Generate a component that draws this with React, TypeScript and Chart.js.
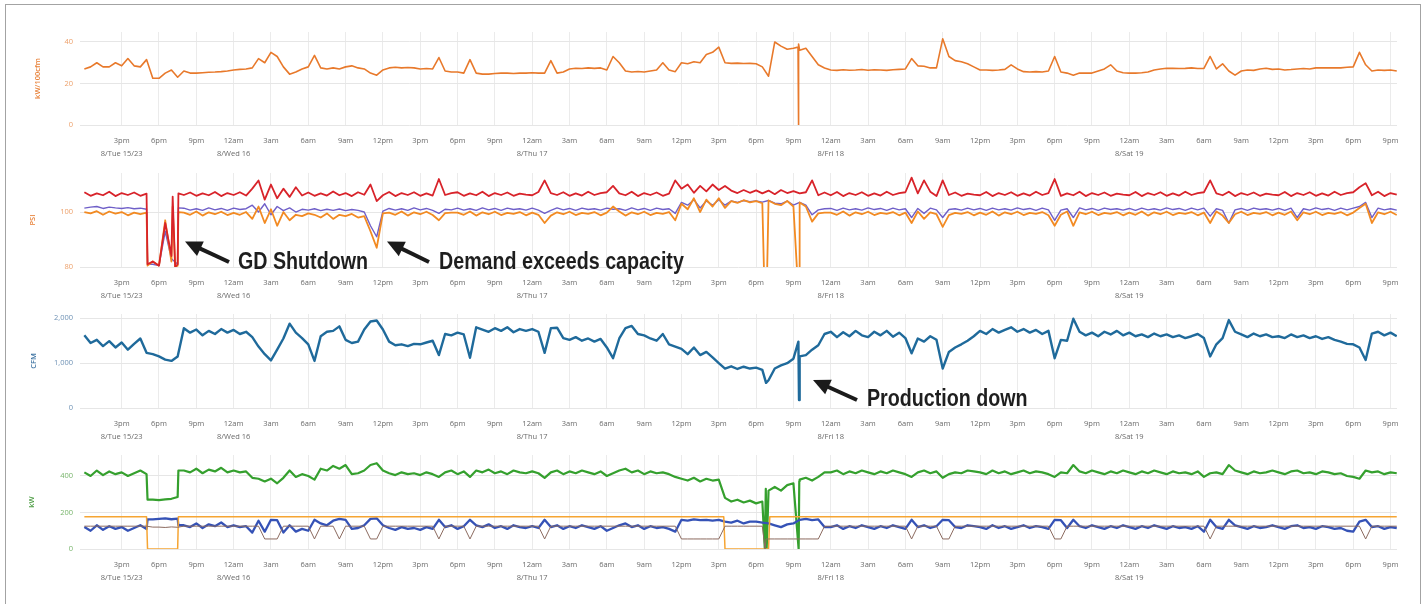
import React, { useEffect, useRef } from 'react';
import { Chart, registerables } from 'chart.js';

Chart.register(...registerables);

// ---------- time axis (hours counted from Tue 15, 00:00) ----------
const START_HOUR = 12;
const STEP_HOURS = 0.5;
const X_MIN = 11.65;
const X_MAX = 117.52;

const tickHours = [15, 18, 21, 24, 27, 30, 33, 36, 39, 42, 45, 48, 51, 54, 57, 60, 63, 66, 69, 72, 75, 78, 81, 84, 87, 90, 93, 96, 99, 102, 105, 108, 111, 114, 117];
const tickTimeLabels = ['3pm', '6pm', '9pm', '12am', '3am', '6am', '9am', '12pm', '3pm', '6pm', '9pm', '12am', '3am', '6am', '9am', '12pm', '3pm', '6pm', '9pm', '12am', '3am', '6am', '9am', '12pm', '3pm', '6pm', '9pm', '12am', '3am', '6am', '9am', '12pm', '3pm', '6pm', '9pm'];
const tickDateLabels = ['8/Tue 15/23', '', '', '8/Wed 16', '', '', '', '', '', '', '', '8/Thu 17', '', '', '', '', '', '', '', '8/Fri 18', '', '', '', '', '', '', '', '8/Sat 19', '', '', '', '', '', '', ''];

// ---------- panel 1: kW/100cfm (30 min samples from 12pm Tue) ----------
const kwPer100Cfm = [
  27, 28, 30, 28, 28, 30, 28.5, 32, 28.5, 28, 31.5, 22.5,
  22.5, 25, 26.5, 23, 26, 25, 25, 25.2, 25.4, 25.5, 25.7, 26,
  26.5, 26.8, 27, 27.5, 32, 30, 35, 33, 28, 24.5, 25.5, 27,
  28, 33.5, 27.5, 27, 27.5, 27, 28, 28.5, 27.5, 27, 25, 24,
  26.5, 27.5, 27.8, 27.5, 27.7, 27.5, 27, 27.2, 27, 32.5, 26, 25.5,
  25.5, 25, 31.5, 25, 24.5, 24.5, 24.8, 25, 25, 24.8, 25, 25,
  25.2, 25, 25, 31, 25, 25.5, 27, 27.3, 27.2, 27.5, 27.3, 27.5,
  26.5, 33, 30, 26, 25.5, 25.8, 25.5, 26, 26.5, 30, 26.5, 25.7,
  30, 29.5, 30.5, 30, 34, 35, 37.5, 30, 29.7, 29.8, 29.6, 29.7,
  29.5, 28, 23.5, 40, 38, 36.5, 37, 36, 37, 33, 29, 27.5,
  26.5, 26.3, 26.6, 26.4, 26.5, 26.7, 26.4, 26.6, 26.5, 26.3, 26.6, 26.8,
  27, 32, 28.5, 28.3, 27.5, 27.5, 41.5, 33, 31, 30.5, 29.5, 28,
  26.5, 26.5, 26.3, 26.5, 26.8, 29, 27, 25.7, 25.5, 25.7, 25.5, 26,
  33, 25.5, 25, 24, 25, 25, 25, 26, 27, 29, 26, 25.2,
  25, 25, 25.2, 25.5, 26.5, 27, 27.3, 27.3, 27.2, 27.3, 27.5, 27.2,
  27.3, 33, 27, 29.5, 26, 24, 26, 26.5, 26.3, 27, 27.3, 26.8,
  27, 26.5, 26.7, 27, 27.2, 27, 27.5, 27.6, 27.5, 27.6, 27.5, 27.8,
  28, 35, 29, 26, 26.5, 26.3, 26.5, 26,
];
const kwPer100CfmSpikes: [number, number][] = [[69.37, 37.5], [69.4, 0], [69.43, 39]];

// ---------- panel 2: PSI ----------
const psiRed = [
  107.2, 105.9, 106.8, 106.1, 107.4, 105.8, 106.9, 106.2, 107.1, 105.9, 106.7, 82,
  80.5, 96, 84, 81, 106.2, 107.1, 105.9, 106.8, 106.1, 107.3, 105.8, 106.9,
  106.2, 107.2, 106.0, 108.5, 111.5, 104.5, 110, 105, 108.5, 105.5, 109, 106,
  107.1, 105.9, 106.8, 106.0, 107.5, 106.1, 106.9, 105.8, 107.2, 106.3, 110, 104,
  106.1, 107.3, 105.8, 106.9, 106.2, 107.2, 105.9, 106.8, 106.0, 112, 106.2, 106.9,
  107.2, 105.9, 106.8, 106.1, 107.4, 105.8, 106.9, 106.2, 107.1, 105.9, 106.7, 106.3,
  106.1, 107.3, 111.5, 106.9, 106.2, 107.2, 105.9, 106.8, 106.0, 107.4, 106.2, 106.9,
  107.2, 109.5, 106.8, 106.1, 107.4, 105.8, 106.9, 106.2, 107.1, 105.9, 106.7, 111.5,
  108.5, 110, 107, 109.5, 107.5, 110, 108, 109.5, 107.8, 106.9, 108, 107,
  107.9, 106.8, 107.8, 106.5, 108, 106.9, 107.6, 106.8, 107.2, 111.5, 106.1, 107.1,
  106.1, 107.3, 105.8, 106.9, 106.2, 107.2, 105.9, 106.8, 106.0, 107.4, 106.2, 106.9,
  107.2, 112.5, 106.8, 111.5, 107.4, 105.8, 111.5, 106.2, 107.1, 105.9, 106.7, 106.3,
  106.1, 107.3, 105.8, 106.9, 106.2, 107.2, 105.9, 106.8, 106.0, 107.4, 106.2, 106.9,
  112, 105.9, 106.8, 106.1, 107.4, 105.8, 106.9, 106.2, 107.1, 105.9, 106.7, 106.3,
  106.1, 107.3, 105.8, 106.9, 106.2, 107.2, 105.9, 106.8, 106.0, 107.4, 106.2, 106.9,
  107.2, 111.5, 106.8, 106.1, 107.4, 105.8, 106.9, 106.2, 107.1, 105.9, 106.7, 106.3,
  106.1, 107.3, 105.8, 106.9, 106.2, 107.2, 105.9, 106.8, 106.0, 107.4, 106.2, 106.9,
  107.2, 109, 110.5, 106.1, 107.4, 105.8, 106.9, 106.3,
];
const psiRedSpikes: [number, number][] = [[17.08, 81], [19.1, 105.6], [19.3, 80], [19.56, 106.8]];

const psiBlue = [
  101.4, 101.8, 102, 101.3, 101.8, 101.5, 101.3, 101.6, 101.2, 101.4, 101, 81,
  80.5, 93, 83, 81, 101.4, 100.7, 101.2, 100.6, 101.5, 100.8, 101.3, 100.6,
  101.4, 100.9, 101.2, 102.5, 100, 103, 99, 102, 100.5, 101.5, 100, 101,
  100.7, 101.2, 100.5, 101, 100.6, 101.1, 100.5, 100.9, 100.6, 100, 95, 91,
  100.3, 101.3, 100.7, 101.2, 100.6, 101.5, 100.8, 101.3, 100.6, 99.5, 101, 100.8,
  101.4, 100.7, 101.2, 100.6, 101.5, 100.8, 101.3, 100.6, 101.4, 100.9, 101.2, 100.7,
  101.4, 100.7, 99.5, 100.6, 101.5, 100.8, 101.3, 100.6, 101.4, 100.9, 101.2, 100.7,
  101.4, 101, 101.2, 100.6, 101.5, 100.8, 101.3, 100.6, 101.4, 100.9, 101.2, 99.5,
  103.5, 102.5, 104.5, 101.5, 104, 102.5, 104.5, 102.5, 104, 103.5, 104.2, 103.8,
  104, 103.6, 104.2, 103.2, 103, 104, 102.5, 103.5, 102.5, 99, 100.8, 101.2,
  101.3, 100.6, 101.4, 100.8, 101.2, 100.7, 101.5, 100.9, 101.3, 100.6, 101.4, 100.8,
  101.2, 98, 101.3, 99.5, 101.4, 100.8, 98, 100.9, 101.2, 100.7, 101.4, 100.8,
  101.3, 100.6, 101.4, 100.8, 101.2, 100.7, 101.5, 100.9, 101.3, 100.6, 101.4, 100.8,
  97, 100.7, 101.2, 98, 101.5, 100.8, 101.3, 100.6, 101.4, 100.9, 101.2, 100.7,
  101.3, 100.6, 101.4, 100.8, 101.2, 100.7, 101.5, 100.9, 101.3, 100.6, 101.4, 100.8,
  101.4, 98.5, 101.2, 100.6, 96, 100.8, 101.3, 100.6, 101.4, 100.9, 101.2, 100.7,
  101.3, 100.6, 101.4, 98, 101.2, 100.7, 101.5, 100.9, 101.3, 100.6, 101.4, 100.8,
  101.4, 102, 103.5, 98, 101.4, 100.8, 101.2, 100.7,
];
const psiBlueSpikes: [number, number][] = [[17.08, 81], [19.56, 101.5]];

const psiOrange = [
  100, 99.5, 100.3, 99, 100.2, 99.4, 100, 98.8, 99.8, 99.2, 99.8, 82,
  80.5, 97, 82, 80.5, 99.8, 99.0, 100.2, 98.7, 99.9, 99.2, 100.1, 98.9,
  99.7, 99.0, 100, 97.5, 102, 96, 101, 95, 100, 97, 99, 98.5,
  99.5, 99, 98, 99.5, 97.5, 99, 98.5, 99.3, 98, 98.5, 93, 87,
  99.5, 99.8, 99.0, 100.2, 98.7, 99.9, 99.2, 100.1, 98.9, 97, 99.6, 99.8,
  99.8, 99.0, 100.2, 98.7, 99.9, 99.2, 100.1, 98.9, 99.7, 99.3, 100, 98.8,
  99.8, 99.0, 96, 98.7, 99.9, 99.2, 100.1, 98.9, 99.7, 99.3, 100, 98.8,
  99.8, 102, 100.2, 98.7, 99.9, 99.2, 100.1, 98.9, 99.7, 99.3, 100, 97,
  103, 101, 105, 100, 104.5, 102, 105, 101.5, 104, 103.3, 104.3, 103.5,
  104, 103.2, 104.2, 103, 102.5, 104, 102, 103.5, 102, 96.5, 99.5, 99.8,
  99.8, 99.0, 100.2, 98.7, 99.9, 99.2, 100.1, 98.9, 99.7, 99.3, 100, 98.8,
  99.8, 96, 100.2, 97.5, 99.9, 99.2, 94.6, 98.9, 99.7, 99.3, 100, 98.8,
  99.8, 99.0, 100.2, 98.7, 99.9, 99.2, 100.1, 98.9, 99.7, 99.3, 100, 98.8,
  95, 99.0, 100.2, 95, 99.9, 99.2, 100.1, 98.9, 99.7, 99.3, 100, 98.8,
  99.8, 99.0, 100.2, 98.7, 99.9, 99.2, 100.1, 98.9, 99.7, 99.3, 100, 98.8,
  99.8, 96, 100.2, 98.7, 96, 99.2, 100.1, 98.9, 99.7, 99.3, 100, 98.8,
  99.8, 99.0, 100.2, 97, 99.9, 99.2, 100.1, 98.9, 99.7, 99.3, 100, 98.8,
  99.8, 101.5, 103, 96, 99.9, 99.2, 100.1, 98.9,
];
const psiOrangeSpikes: [number, number][] = [[17.08, 80.5], [19.1, 102], [19.3, 80], [19.56, 100], [66.68, 70], [66.85, 70], [69.4, 70], [69.45, 70]];

// ---------- panel 3: CFM ----------
const cfm = [
  1620, 1450, 1520, 1380, 1490, 1350, 1460, 1300, 1430, 1550, 1230, 1200,
  1150, 1080, 1050, 1150, 1780, 1680, 1750, 1620, 1720, 1650, 1760, 1680,
  1740, 1650, 1700, 1580, 1370, 1200, 1060, 1300, 1550, 1880, 1680, 1560,
  1420, 1050, 1600, 1700, 1720, 1820, 1520, 1450, 1480, 1750, 1930, 1950,
  1750, 1480, 1400, 1420, 1380, 1430, 1420, 1460, 1500, 1180, 1650, 1620,
  1680, 1640, 1120, 1800, 1750, 1700, 1780, 1720, 1800, 1690, 1760, 1720,
  1760, 1700, 1230, 1780, 1790, 1560, 1520, 1580, 1500, 1550, 1480, 1540,
  1350, 1110, 1550, 1780, 1830, 1650, 1620, 1550, 1500, 1650, 1420, 1370,
  1320, 1200, 1350, 1180, 1250, 1130, 1000, 880, 930, 870, 920, 880,
  900, 850, 620, 880, 950, 1000, 1100, 1150, 1180, 1300, 1400, 1650,
  1700, 1580, 1690, 1600, 1720, 1620, 1580, 1700, 1620, 1720, 1590, 1680,
  1560, 1220, 1550, 1480, 1600, 1520, 880, 1250, 1350, 1420, 1500, 1600,
  1720, 1650, 1760, 1680, 1740, 1800, 1700, 1760, 1680, 1740, 1650, 1720,
  1110, 1520, 1500, 1990, 1700, 1620, 1680, 1600, 1700, 1640, 1720, 1620,
  1680, 1600, 1640, 1580, 1660, 1600, 1640, 1580, 1620, 1560, 1600, 1650,
  1560, 1150, 1420, 1560, 1960, 1700, 1640, 1580, 1660, 1600, 1640, 1580,
  1600, 1560, 1640, 1580, 1620, 1560, 1600, 1540, 1580, 1520, 1480, 1430,
  1420, 1350, 1070, 1660, 1700, 1620, 1680, 1600,
];
const cfmSpikes: [number, number][] = [[66.8, 560], [69.4, 1480], [69.45, 180]];

// ---------- panel 4: kW ----------
const kwTotal = [
  420, 400, 430, 405, 425, 410, 420, 400, 415, 430, 410, 270,
  268, 272, 275, 285, 430, 420, 440, 415, 435, 425, 445, 420,
  430, 420, 425, 390, 385, 370, 385, 360, 390, 430, 395, 410,
  400, 380, 440, 430, 455, 440, 460, 410, 415, 430, 460, 470,
  430, 415, 405, 420, 410, 415, 405, 420, 410, 395, 420, 430,
  410, 425, 395, 430, 420, 435, 415, 425, 410, 430, 420, 415,
  425, 415, 390, 420, 430, 410, 425, 415, 430, 420, 410, 425,
  400, 415, 430, 440, 420, 430, 410, 425, 415, 420, 410, 395,
  385, 375, 390, 370, 385, 375, 380, 280, 260, 270, 255, 265,
  250, 260, 320, 340, 320, 350, 360, 380, 390, 375, 395, 420,
  420, 430, 410, 425, 415, 430, 420, 410, 425, 415, 430, 420,
  410, 395, 420, 430, 415, 425, 390, 410, 420, 415, 430, 425,
  420, 410, 430, 415, 425, 410, 420, 430, 415, 425, 420, 410,
  395, 420, 415, 460, 425, 415, 430, 420, 410, 425, 415, 430,
  420, 410, 425, 415, 430, 420, 410, 425, 415, 420, 410, 425,
  395, 415, 420, 410, 460, 430, 420, 410, 425, 415, 420, 430,
  420, 410, 425, 430, 415, 420, 410, 425, 420, 410, 415, 400,
  395, 385, 430, 420, 425, 410, 420, 415,
];
const kwTotalSpikes: [number, number][] = [[17.08, 270], [19.56, 430], [66.7, 0], [66.78, 330], [66.85, 0], [69.42, 0], [69.47, 370]];

const kwTrim = [
  120, 100, 130, 105, 125, 110, 120, 100, 115, 130, 110, 162,
  165, 168, 163, 166, 130, 120, 140, 115, 135, 125, 145, 120,
  130, 120, 125, 90, 155, 95, 160, 158, 90, 130, 95, 110,
  100, 160, 140, 130, 155, 165, 160, 110, 115, 130, 165, 168,
  130, 115, 105, 120, 110, 115, 105, 120, 110, 160, 120, 130,
  110, 125, 160, 130, 120, 135, 115, 125, 110, 130, 120, 115,
  125, 115, 160, 120, 130, 110, 125, 115, 130, 120, 110, 125,
  100, 115, 130, 140, 120, 130, 110, 125, 115, 120, 110, 95,
  160, 155, 162, 158, 160, 155, 160, 150, 145, 155, 140, 150,
  150, 145, 140, 130, 120, 135, 140, 160, 165, 158, 162, 120,
  120, 130, 110, 125, 115, 130, 120, 110, 125, 115, 130, 120,
  110, 160, 120, 130, 115, 125, 160, 158, 120, 115, 130, 125,
  120, 110, 130, 115, 125, 110, 120, 130, 115, 125, 120, 110,
  160, 158, 115, 160, 125, 115, 130, 120, 110, 125, 115, 130,
  120, 110, 125, 115, 130, 120, 110, 125, 115, 120, 110, 125,
  95, 160, 120, 110, 160, 130, 120, 110, 125, 115, 120, 130,
  120, 110, 125, 130, 115, 120, 110, 125, 120, 110, 115, 100,
  95, 150, 160, 120, 125, 110, 120, 115,
];
const kwTrimSpikes: [number, number][] = [[17.08, 162], [19.56, 130]];

const kwBase = [
  177, 177, 177, 177, 177, 177, 177, 177, 177, 177, 177, 0,
  0, 0, 0, 0, 177, 177, 177, 177, 177, 177, 177, 177,
  177, 177, 177, 177, 177, 177, 177, 177, 177, 177, 177, 177,
  177, 177, 177, 177, 177, 177, 177, 177, 177, 177, 177, 177,
  177, 177, 177, 177, 177, 177, 177, 177, 177, 177, 177, 177,
  177, 177, 177, 177, 177, 177, 177, 177, 177, 177, 177, 177,
  177, 177, 177, 177, 177, 177, 177, 177, 177, 177, 177, 177,
  177, 177, 177, 177, 177, 177, 177, 177, 177, 177, 177, 177,
  177, 177, 177, 177, 177, 177, 177, 0, 0, 0, 0, 0,
  0, 0, 0, 177, 177, 177, 177, 177, 177, 177, 177, 177,
  177, 177, 177, 177, 177, 177, 177, 177, 177, 177, 177, 177,
  177, 177, 177, 177, 177, 177, 177, 177, 177, 177, 177, 177,
  177, 177, 177, 177, 177, 177, 177, 177, 177, 177, 177, 177,
  177, 177, 177, 177, 177, 177, 177, 177, 177, 177, 177, 177,
  177, 177, 177, 177, 177, 177, 177, 177, 177, 177, 177, 177,
  177, 177, 177, 177, 177, 177, 177, 177, 177, 177, 177, 177,
  177, 177, 177, 177, 177, 177, 177, 177, 177, 177, 177, 177,
  177, 177, 177, 177, 177, 177, 177, 177,
];
const kwBaseSpikes: [number, number][] = [[17.08, 0], [19.56, 177], [63.4, 177], [67.1, 177]];

const kwSecond = [
  125, 125, 125, 125, 125, 125, 125, 125, 125, 125, 125, 120,
  120, 118, 121, 119, 125, 125, 125, 125, 125, 125, 125, 125,
  125, 125, 125, 125, 125, 55, 55, 55, 125, 125, 125, 125,
  125, 55, 125, 125, 125, 55, 125, 125, 125, 125, 55, 55,
  125, 125, 125, 125, 125, 125, 125, 125, 125, 55, 125, 125,
  125, 125, 55, 125, 125, 125, 125, 125, 125, 125, 125, 125,
  125, 125, 55, 125, 125, 125, 125, 125, 125, 125, 125, 125,
  125, 125, 125, 125, 125, 125, 125, 125, 125, 125, 125, 125,
  55, 55, 55, 55, 55, 55, 55, 125, 125, 125, 125, 125,
  125, 125, 55, 55, 55, 55, 55, 55, 55, 55, 55, 125,
  125, 125, 125, 125, 125, 125, 125, 125, 125, 125, 125, 125,
  125, 55, 125, 125, 125, 125, 55, 55, 125, 125, 125, 125,
  125, 125, 125, 125, 125, 125, 125, 125, 125, 125, 125, 125,
  55, 55, 125, 125, 125, 125, 125, 125, 125, 125, 125, 125,
  125, 125, 125, 125, 125, 125, 125, 125, 125, 125, 125, 125,
  125, 55, 125, 125, 125, 125, 125, 125, 125, 125, 125, 125,
  125, 125, 125, 125, 125, 125, 125, 125, 125, 125, 125, 125,
  125, 125, 55, 125, 125, 125, 125, 125,
];
const kwSecondSpikes: [number, number][] = [[66.72, 0], [66.8, 55]];

// ---------- layout / styling ----------
type Series = { label: string; values: number[]; extras: [number, number][]; color: string; width: number };
type PanelCfg = {
  top: number; plotH: number; yMin: number; yMax: number; yTicks: number[]; yTickLabels: string[];
  title: string; titleColor: string; tickColor: string; titleCenter: number; series: Series[];
};

const PANELS: PanelCfg[] = [
  {
    top: 17, plotH: 93, yMin: 0, yMax: 44.8, yTicks: [0, 20, 40], yTickLabels: ['0', '20', '40'],
    title: 'kW/100cfm', titleColor: '#e8823a', tickColor: '#eda06a', titleCenter: 38,
    series: [{ label: 'kW/100cfm', values: kwPer100Cfm, extras: kwPer100CfmSpikes, color: '#e8792b', width: 1.6 }],
  },
  {
    top: 158, plotH: 94, yMin: 80, yMax: 114.2, yTicks: [80, 100], yTickLabels: ['80', '100'],
    title: 'PSI', titleColor: '#e8823a', tickColor: '#eda06a', titleCenter: 33,
    series: [
      { label: 'Header', values: psiRed, extras: psiRedSpikes, color: '#d8232a', width: 1.8 },
      { label: 'Demand', values: psiOrange, extras: psiOrangeSpikes, color: '#f28a22', width: 1.8 },
      { label: 'Supply', values: psiBlue, extras: psiBlueSpikes, color: '#6f5fc8', width: 1.4 },
    ],
  },
  {
    top: 299, plotH: 94, yMin: 0, yMax: 2096, yTicks: [0, 1000, 2000], yTickLabels: ['0', '1,000', '2,000'],
    title: 'CFM', titleColor: '#3f74a3', tickColor: '#6f92b5', titleCenter: 34,
    series: [{ label: 'CFM', values: cfm, extras: cfmSpikes, color: '#1f6a9b', width: 2.4 }],
  },
  {
    top: 440, plotH: 94, yMin: 0, yMax: 515, yTicks: [0, 200, 400], yTickLabels: ['0', '200', '400'],
    title: 'kW', titleColor: '#4f9e45', tickColor: '#78b56c', titleCenter: 32,
    series: [
      { label: 'Second', values: kwSecond, extras: kwSecondSpikes, color: '#8b6a5f', width: 1 },
      { label: 'Base', values: kwBase, extras: kwBaseSpikes, color: '#f6a533', width: 1.5 },
      { label: 'Trim', values: kwTrim, extras: kwTrimSpikes, color: '#3552b6', width: 2.3 },
      { label: 'Total', values: kwTotal, extras: kwTotalSpikes, color: '#35a02e', width: 2.2 },
    ],
  },
];

const PAD_TOP = 15;
const X_AXIS_H = 40;
const Y_AXIS_W = 80;
const TICK_FONT = "'Open Sans', 'Noto Sans', sans-serif";

function buildPoints(values: number[], extras: [number, number][]) {
  const pts = values.map((v, i) => ({ x: START_HOUR + i * STEP_HOURS, y: v }));
  extras.forEach(([x, y]) => pts.push({ x, y }));
  pts.sort((a, b) => a.x - b.x);
  return pts;
}

function Panel({ cfg }: { cfg: PanelCfg }) {
  const ref = useRef<HTMLCanvasElement>(null);
  const height = PAD_TOP + cfg.plotH + X_AXIS_H;
  useEffect(() => {
    if (!ref.current) return;
    const chart = new Chart(ref.current, {
      type: 'line',
      data: {
        datasets: cfg.series.map((s) => ({
          label: s.label,
          data: buildPoints(s.values, s.extras),
          borderColor: s.color,
          backgroundColor: s.color,
          borderWidth: s.width,
          borderJoinStyle: 'round',
          pointRadius: 0,
          tension: 0,
          fill: false,
        })),
      },
      options: {
        animation: false,
        responsive: false,
        maintainAspectRatio: false,
        events: [],
        layout: { padding: { top: PAD_TOP, right: 1426 - 1397, bottom: 0, left: 0 } },
        plugins: { legend: { display: false }, tooltip: { enabled: false }, title: { display: false } },
        scales: {
          x: {
            type: 'linear',
            min: X_MIN,
            max: X_MAX,
            border: { display: false },
            grid: { color: '#ebebeb', drawTicks: false },
            afterBuildTicks: (s: any) => { s.ticks = tickHours.map((v) => ({ value: v })); },
            afterFit: (s: any) => { s.height = X_AXIS_H; },
            ticks: {
              autoSkip: false,
              maxRotation: 0,
              minRotation: 0,
              padding: 9,
              color: '#6a6a6a',
              font: { family: TICK_FONT, size: 7.5, lineHeight: 1.75 },
              callback: (v: any) => {
                const i = tickHours.indexOf(Number(v));
                if (i < 0) return '';
                return tickDateLabels[i] ? [tickTimeLabels[i], tickDateLabels[i]] : tickTimeLabels[i];
              },
            },
          },
          y: {
            type: 'linear',
            min: cfg.yMin,
            max: cfg.yMax,
            border: { display: false },
            grid: { color: '#e6e6e6', drawTicks: false },
            afterBuildTicks: (s: any) => { s.ticks = cfg.yTicks.map((v) => ({ value: v })); },
            afterFit: (s: any) => { s.width = Y_AXIS_W; },
            ticks: {
              padding: 7,
              color: cfg.tickColor,
              font: { family: TICK_FONT, size: 7.5 },
              callback: (v: any) => {
                const i = cfg.yTicks.indexOf(Number(v));
                return i < 0 ? '' : cfg.yTickLabels[i];
              },
            },
            title: {
              display: true,
              text: cfg.title,
              color: cfg.titleColor,
              font: { family: TICK_FONT, size: 7.5, weight: '600', lineHeight: 1.2 },
              padding: { top: cfg.titleCenter - 4.5, bottom: 0 },
            },
          },
        },
      } as any,
    });
    return () => chart.destroy();
  }, [cfg]);
  return (
    <canvas
      ref={ref}
      width={1426}
      height={height}
      style={{ position: 'absolute', left: 0, top: cfg.top, width: 1426, height, display: 'block' }}
    />
  );
}

const NOTES = [
  { text: 'GD Shutdown', left: 238, top: 250.3 },
  { text: 'Demand exceeds capacity', left: 439, top: 250.3 },
  { text: 'Production down', left: 866.5, top: 387 },
];
const ARROWS: { tail: [number, number]; tip: [number, number] }[] = [
  { tail: [229, 262], tip: [185, 241.5] },
  { tail: [429, 262], tip: [387, 241.5] },
  { tail: [857, 400], tip: [813, 380] },
];

function Arrow({ tail, tip }: { tail: [number, number]; tip: [number, number] }) {
  const dx = tip[0] - tail[0];
  const dy = tip[1] - tail[1];
  const len = Math.hypot(dx, dy);
  const ux = dx / len;
  const uy = dy / len;
  const L = 17;
  const W = 8;
  const bx = tip[0] - ux * L;
  const by = tip[1] - uy * L;
  const nx = -uy;
  const ny = ux;
  const pts = `${tip[0]},${tip[1]} ${bx + nx * W},${by + ny * W} ${bx - nx * W},${by - ny * W}`;
  return (
    <g>
      <line x1={tail[0]} y1={tail[1]} x2={bx + ux * 2} y2={by + uy * 2} stroke="#1b1b1b" strokeWidth={4} />
      <polygon points={pts} fill="#1b1b1b" />
    </g>
  );
}

export default function App() {
  return (
    <div style={{ position: 'absolute', left: 0, top: 0, width: 1426, height: 604, overflow: 'hidden', background: '#ffffff' }}>
      <div
        style={{
          position: 'absolute', left: 5, top: 4, width: 1416, height: 640,
          border: '1px solid #a3a3a3', boxSizing: 'border-box',
        }}
      />
      {PANELS.map((p, i) => (
        <Panel key={i} cfg={p} />
      ))}
      <svg width={1426} height={604} style={{ position: 'absolute', left: 0, top: 0, pointerEvents: 'none' }}>
        {ARROWS.map((a, i) => (
          <Arrow key={i} tail={a.tail} tip={a.tip} />
        ))}
      </svg>
      {NOTES.map((n, i) => (
        <div
          key={i}
          style={{
            position: 'absolute', left: n.left, top: n.top,
            fontFamily: "'Liberation Sans', Arial, sans-serif", fontWeight: 700, fontSize: 23,
            lineHeight: '23px', color: '#1e1e1e', whiteSpace: 'nowrap',
            transform: 'scaleX(0.855)', transformOrigin: '0 0',
          }}
        >
          {n.text}
        </div>
      ))}
    </div>
  );
}
